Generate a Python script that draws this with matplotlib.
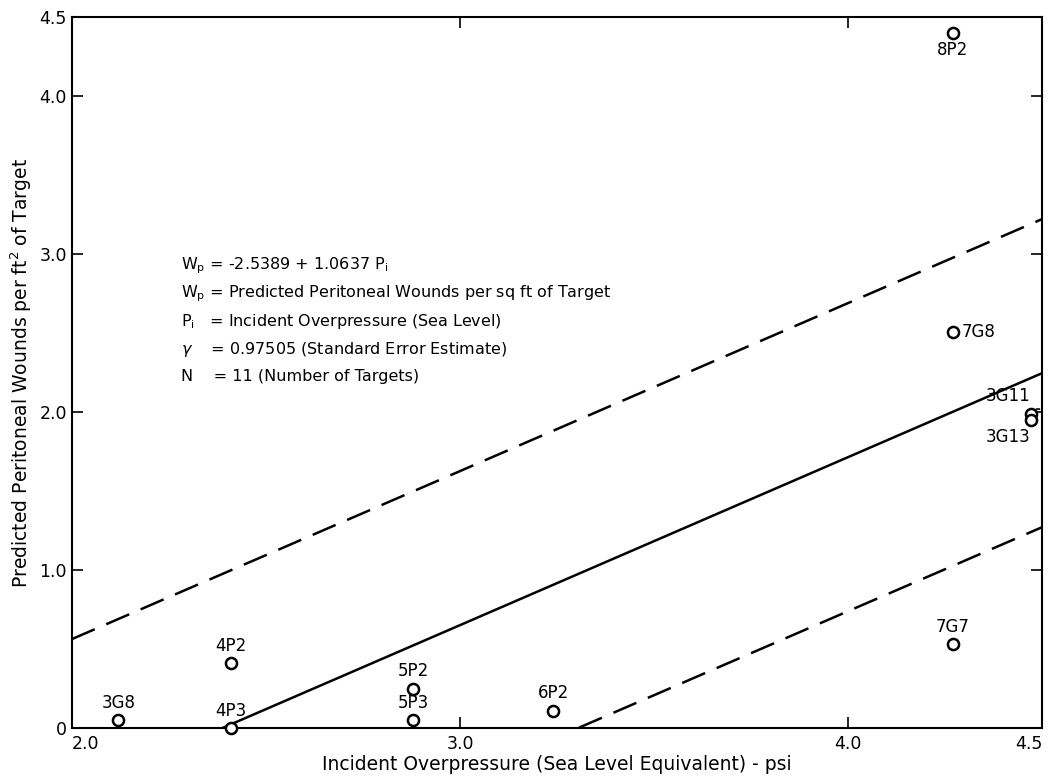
import matplotlib
matplotlib.use("Agg")

import numpy as np
import matplotlib.pyplot as plt

# Target points
targets = ["3G8", "4P3", "4P2", "5P2", "5P3", "6P2", "7G7", "7G8", "3G11", "3G13", "8P2"]
pressure = [2.12, 2.41, 2.41, 2.88, 2.88, 3.24, 4.27, 4.27, 4.47, 4.47, 4.27]
wounds = [0.05, 0.0, 0.41, 0.25, 0.05, 0.11, 0.53, 2.51, 1.99, 1.95, 4.40]

# Regression fit and standard error
intercept = -2.5389
slope = 1.0637
std_err = 0.97505

xticks = [2.0, 3.0, 4.0, 4.5]
xticklabels = ["2.0", "3.0", "4.0", "4.5"]
yticks = [0, 1.0, 2.0, 3.0, 4.0, 4.5]
yticklabels = ["0", "1.0", "2.0", "3.0", "4.0", "4.5"]

# label offsets (points) and alignment per target
label_pos = {
    "3G8": ((0, 6), "center", "bottom"),
    "4P3": ((0, 6), "center", "bottom"),
    "4P2": ((0, 6), "center", "bottom"),
    "5P2": ((0, 6), "center", "bottom"),
    "5P3": ((0, 6), "center", "bottom"),
    "6P2": ((0, 6), "center", "bottom"),
    "7G7": ((0, 6), "center", "bottom"),
    "7G8": ((6, 0), "left", "center"),
    "3G11": ((0, 6), "right", "bottom"),
    "3G13": ((0, -6), "right", "top"),
    "8P2": ((0, -6), "center", "top"),
}

plt.rcParams["font.family"] = ["DejaVu Sans"]

fig = plt.figure(figsize=(10.56, 7.83), dpi=100)
ax = fig.add_axes([0.068, 0.070, 0.919, 0.908])

# fitted line (only where positive) and +/- standard error lines
x = np.linspace(2.0, 4.5, 200)
fit = intercept + slope * x
upper = fit + std_err
lower = fit - std_err
ax.plot(np.where(fit >= 0, x, np.nan), fit, color="black", lw=1.8)
ax.plot(x, upper, color="black", lw=1.8, dashes=(10, 5))
ax.plot(np.where(lower >= 0, x, np.nan), lower, color="black", lw=1.8, dashes=(10, 5))

ax.plot(pressure, wounds, "o", ms=8, mfc="white", mec="black", mew=1.8,
        clip_on=False, zorder=3)

for name, px, py in zip(targets, pressure, wounds):
    off, ha, va = label_pos[name]
    ax.annotate(name, (px, py), xytext=off, textcoords="offset points",
                ha=ha, va=va, fontsize=12)

# small leader line next to 3G11
ax.annotate("", xy=(4.5, 2.02), xytext=(4.478, 2.02),
            arrowprops=dict(arrowstyle="-", lw=1.2), annotation_clip=False)

notes = [
    r"W$_\mathrm{p}$ = -2.5389 + 1.0637 P$_\mathrm{i}$",
    r"W$_\mathrm{p}$ = Predicted Peritoneal Wounds per sq ft of Target",
    r"P$_\mathrm{i}$   = Incident Overpressure (Sea Level)",
    r"$\gamma$    = 0.97505 (Standard Error Estimate)",
    r"N    = 11 (Number of Targets)",
]
for i, line in enumerate(notes):
    ax.text(0.113, 0.650 - i * 0.039, line, transform=ax.transAxes,
            fontsize=11.5, va="center", ha="left")

ax.set_xlim(2.0, 4.5)
ax.set_ylim(0, 4.5)
ax.set_xticks(xticks)
ax.set_xticklabels(xticklabels)
ax.set_yticks(yticks)
ax.set_yticklabels(yticklabels)
ax.tick_params(direction="in", length=8, width=1.2, labelsize=12.5,
               top=True, right=True)
ax.tick_params(axis="x", pad=5)
for lab in ax.get_xticklabels():
    if lab.get_text() == "4.5":
        lab.set_horizontalalignment("right")
    if lab.get_text() == "2.0":
        lab.set_horizontalalignment("left")
for s in ax.spines.values():
    s.set_linewidth(1.5)

ax.set_xlabel("Incident Overpressure (Sea Level Equivalent) - psi",
              fontsize=13.5, labelpad=1)
ax.set_ylabel("Predicted Peritoneal Wounds per ft$^2$ of Target",
              fontsize=13.5, labelpad=4)

plt.savefig("out.png", dpi=100)
print("plot created")
